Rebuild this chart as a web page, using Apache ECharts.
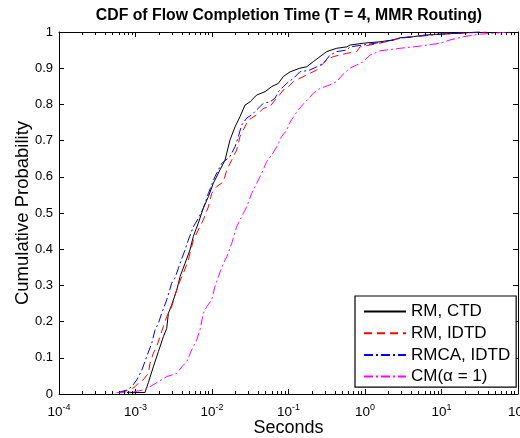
<!DOCTYPE html>
<html>
<head>
<meta charset="utf-8">
<script src="https://cdn.jsdelivr.net/npm/echarts@6/dist/echarts.min.js"></script>
<style>
  html, body { margin: 0; padding: 0; background: #fff; }
  #chart { width: 520px; height: 438px; }
</style>
</head>
<body>
<div id="chart"></div>
<script>
// Empirical CDFs of flow completion time: [seconds, cumulative probability]
const rmCtd = [
  [7.74e-4, 0.004], [1.33e-3, 0.004], [1.47e-3, 0.031], [1.71e-3, 0.075], [1.99e-3, 0.117],
  [2.31e-3, 0.158], [2.56e-3, 0.181], [2.69e-3, 0.223], [2.97e-3, 0.246], [3.46e-3, 0.287],
  [3.82e-3, 0.324], [4.44e-3, 0.361], [5.15e-3, 0.398], [5.70e-3, 0.435], [6.62e-3, 0.472],
  [7.69e-3, 0.513], [8.96e-3, 0.545], [1.04e-2, 0.582], [1.27e-2, 0.619], [1.48e-2, 0.646],
  [1.72e-2, 0.702], [2.00e-2, 0.738], [2.32e-2, 0.766], [2.70e-2, 0.798], [3.14e-2, 0.807],
  [3.84e-2, 0.826], [4.93e-2, 0.835], [6.02e-2, 0.849], [7.36e-2, 0.858], [8.55e-2, 0.877],
  [0.105, 0.890], [0.141, 0.900], [0.173, 0.904], [0.211, 0.918], [0.258, 0.932],
  [0.316, 0.946], [0.427, 0.955], [0.577, 0.959], [0.637, 0.964], [0.951, 0.969],
  [1.57, 0.973], [2.34, 0.978], [2.87, 0.984], [4.28, 0.987], [6.41, 0.992],
  [9.55, 0.994], [17.5, 0.997], [31.9, 1.0]
];
const rmIdtd = [
  [6.26e-4, 0.004], [8.47e-4, 0.011], [9.85e-4, 0.020], [1.09e-3, 0.030], [1.26e-3, 0.039],
  [1.47e-3, 0.057], [1.55e-3, 0.085], [1.71e-3, 0.112], [1.89e-3, 0.131], [2.09e-3, 0.158],
  [2.31e-3, 0.186], [2.56e-3, 0.214], [2.97e-3, 0.241], [3.28e-3, 0.273], [3.62e-3, 0.301],
  [4.22e-3, 0.333], [4.90e-3, 0.370], [5.70e-3, 0.425], [6.62e-3, 0.453], [7.69e-3, 0.481],
  [8.96e-3, 0.517], [9.91e-3, 0.554], [1.15e-2, 0.573], [1.41e-2, 0.586], [1.56e-2, 0.619],
  [1.81e-2, 0.646], [2.10e-2, 0.674], [2.32e-2, 0.711], [2.56e-2, 0.729], [2.99e-2, 0.757],
  [3.30e-2, 0.762], [4.03e-2, 0.775], [4.69e-2, 0.789], [5.73e-2, 0.794], [6.67e-2, 0.812],
  [7.36e-2, 0.821], [8.55e-2, 0.840], [9.46e-2, 0.844], [0.116, 0.863], [0.141, 0.872],
  [0.191, 0.886], [0.234, 0.895], [0.316, 0.923], [0.385, 0.932], [0.577, 0.941],
  [0.780, 0.946], [0.861, 0.959], [1.16, 0.964], [1.57, 0.969], [2.34, 0.978],
  [2.87, 0.983], [4.28, 0.987], [6.41, 0.992], [9.55, 0.994], [19.3, 0.997], [39.0, 1.0]
];
const rmcaIdtd = [
  [5.96e-4, 0.004], [7.67e-4, 0.011], [8.91e-4, 0.020], [1.04e-3, 0.039], [1.21e-3, 0.066],
  [1.40e-3, 0.103], [1.63e-3, 0.140], [1.80e-3, 0.177], [1.99e-3, 0.195], [2.20e-3, 0.223],
  [2.56e-3, 0.260], [2.97e-3, 0.306], [3.28e-3, 0.320], [3.82e-3, 0.361], [4.44e-3, 0.398],
  [4.90e-3, 0.425], [5.70e-3, 0.462], [6.62e-3, 0.485], [7.69e-3, 0.513], [8.96e-3, 0.554],
  [1.09e-2, 0.600], [1.34e-2, 0.637], [1.72e-2, 0.656], [2.00e-2, 0.683], [2.21e-2, 0.711],
  [2.44e-2, 0.743], [2.84e-2, 0.762], [3.30e-2, 0.771], [3.84e-2, 0.785], [4.69e-2, 0.803],
  [5.73e-2, 0.807], [6.67e-2, 0.817], [7.36e-2, 0.835], [8.55e-2, 0.849], [9.46e-2, 0.858],
  [0.116, 0.872], [0.141, 0.890], [0.191, 0.895], [0.234, 0.904], [0.285, 0.913],
  [0.348, 0.936], [0.427, 0.946], [0.577, 0.950], [0.637, 0.959], [0.951, 0.964],
  [1.57, 0.971], [2.34, 0.978], [2.87, 0.983], [4.28, 0.987], [6.41, 0.990],
  [9.55, 0.994], [17.5, 0.997], [31.9, 1.0]
];
const cmAlpha1 = [
  [5.68e-4, 0.004], [9.35e-4, 0.006], [1.26e-3, 0.011], [1.55e-3, 0.020], [1.99e-3, 0.034],
  [2.56e-3, 0.048], [3.46e-3, 0.057], [4.02e-3, 0.075], [4.67e-3, 0.089], [5.43e-3, 0.122],
  [6.31e-3, 0.149], [6.97e-3, 0.177], [7.69e-3, 0.223], [8.53e-3, 0.241], [9.91e-3, 0.260],
  [1.09e-2, 0.296], [1.21e-2, 0.324], [1.41e-2, 0.361], [1.56e-2, 0.379], [1.81e-2, 0.416],
  [2.10e-2, 0.462], [2.44e-2, 0.490], [2.84e-2, 0.517], [3.30e-2, 0.554], [3.84e-2, 0.582],
  [4.47e-2, 0.610], [5.19e-2, 0.642], [6.02e-2, 0.660], [7.02e-2, 0.683], [8.14e-2, 0.711],
  [9.46e-2, 0.729], [0.105, 0.751], [0.128, 0.779], [0.156, 0.801], [0.191, 0.820],
  [0.211, 0.831], [0.258, 0.844], [0.348, 0.854], [0.427, 0.863], [0.520, 0.884],
  [0.637, 0.900], [0.780, 0.909], [0.951, 0.918], [1.16, 0.936], [1.57, 0.948],
  [2.87, 0.955], [5.24, 0.961], [9.55, 0.969], [12.9, 0.978], [19.3, 0.987],
  [31.9, 0.994], [58.2, 0.998], [78.5, 1.0]
];

const seriesNames = ['RM, CTD', 'RM, IDTD', 'RMCA, IDTD', 'CM(\u03b1 = 1)'];
const xTickExponents = [-4, -3, -2, -1, 0, 1, 2];
const yTicks = [0, 0.1, 0.2, 0.3, 0.4, 0.5, 0.6, 0.7, 0.8, 0.9, 1];

const FONT = '"Liberation Sans", Arial, Helvetica, sans-serif';
const xMin = Math.pow(10, xTickExponents[0]);
const xMax = Math.pow(10, xTickExponents[xTickExponents.length - 1]);

const chart = echarts.init(document.getElementById('chart'), null, { renderer: 'canvas' });

function decadeLabel(v) {
  const e = Math.round(Math.log10(v));
  return '{b|10}{s|' + e + '}';
}

const frameAxis = {
  axisLine: { show: true, onZero: false, lineStyle: { color: '#000', width: 1 } },
  axisTick: { show: true, inside: true, length: 5, lineStyle: { color: '#000', width: 1 } },
  splitLine: { show: false },
  minorTick: { show: false }
};

const option = {
  animation: false,
  backgroundColor: '#fff',
  textStyle: { fontFamily: FONT },
  title: {
    text: 'CDF of Flow Completion Time (T = 4, MMR Routing)',
    left: 289, top: 8, textAlign: 'center', padding: 0,
    textStyle: { fontFamily: FONT, fontSize: 15.8, fontWeight: 'bold', color: '#000' }
  },
  grid: {
    left: 59, right: 2, top: 32, bottom: 44,
    containLabel: false, outerBoundsMode: 'none'
  },
  legend: {
    orient: 'vertical',
    left: 355, top: 296,
    padding: [7, 6, 2, 8],
    itemWidth: 42, itemHeight: 14, itemGap: 4.7,
    borderColor: '#000', borderWidth: 1.2, backgroundColor: '#fff',
    itemStyle: { opacity: 0 },
    textStyle: { fontFamily: FONT, fontSize: 17, color: '#000' },
    data: seriesNames
  },
  xAxis: [
    Object.assign({
      type: 'log', logBase: 10, min: xMin, max: xMax,
      name: 'Seconds', nameLocation: 'middle', nameGap: 25, nameMoveOverlap: false,
      nameTextStyle: { fontFamily: FONT, fontSize: 18, color: '#000' },
      axisLabel: {
        show: true, margin: 9, color: '#000', fontFamily: FONT,
        formatter: decadeLabel,
        rich: {
          b: { fontFamily: FONT, fontSize: 13.5, color: '#000' },
          s: { fontFamily: FONT, fontSize: 9, color: '#000', padding: [0, 0, 9, 0] }
        }
      }
    }, frameAxis),
    Object.assign({
      type: 'log', logBase: 10, min: xMin, max: xMax, position: 'top',
      axisLabel: { show: false }
    }, frameAxis)
  ],
  yAxis: [
    Object.assign({
      type: 'value', min: 0, max: 1, interval: 0.1,
      name: 'Cumulative Probability', nameLocation: 'middle', nameGap: 27, nameMoveOverlap: false,
      nameTextStyle: { fontFamily: FONT, fontSize: 18.5, color: '#000' },
      axisLabel: { show: true, margin: 6, color: '#000', fontFamily: FONT, fontSize: 13 }
    }, frameAxis),
    Object.assign({
      type: 'value', min: 0, max: 1, interval: 0.1, position: 'right',
      axisLabel: { show: false }
    }, frameAxis)
  ],
  series: [
    { name: seriesNames[0], data: rmCtd, color: '#000000', lineStyle: { color: '#000000', width: 1, type: 'solid' } },
    { name: seriesNames[1], data: rmIdtd, color: '#ff0000', lineStyle: { color: '#ff0000', width: 1, type: [8, 5] } },
    { name: seriesNames[2], data: rmcaIdtd, color: '#0000ff', lineStyle: { color: '#0000ff', width: 1, type: [9, 3, 2, 3] } },
    { name: seriesNames[3], data: cmAlpha1, color: '#ff00ff', lineStyle: { color: '#ff00ff', width: 1, type: [9, 3, 2, 3] } }
  ].map(function (s) {
    return Object.assign({
      type: 'line', xAxisIndex: 0, yAxisIndex: 0,
      symbol: 'none', showSymbol: false, smooth: false,
      emphasis: { disabled: true }
    }, s);
  })
};

chart.setOption(option);

// Minor log ticks (2..9 within each decade) on the bottom and top frame edges
function drawMinorTicks() {
  const yBottom = chart.convertToPixel({ yAxisIndex: 0 }, 0);
  const yTop = chart.convertToPixel({ yAxisIndex: 0 }, 1);
  const marks = [];
  for (let i = 0; i < xTickExponents.length - 1; i++) {
    const base = Math.pow(10, xTickExponents[i]);
    for (let k = 2; k <= 9; k++) {
      const px = Math.round(chart.convertToPixel({ xAxisIndex: 0 }, k * base)) + 0.5;
      marks.push({
        type: 'line', silent: true, z: 10,
        shape: { x1: px, y1: yBottom, x2: px, y2: yBottom - 3 },
        style: { stroke: '#000', lineWidth: 1 }
      });
      marks.push({
        type: 'line', silent: true, z: 10,
        shape: { x1: px, y1: yTop, x2: px, y2: yTop + 3 },
        style: { stroke: '#000', lineWidth: 1 }
      });
    }
  }
  chart.setOption({ graphic: marks });
}
drawMinorTicks();
</script>
</body>
</html>
